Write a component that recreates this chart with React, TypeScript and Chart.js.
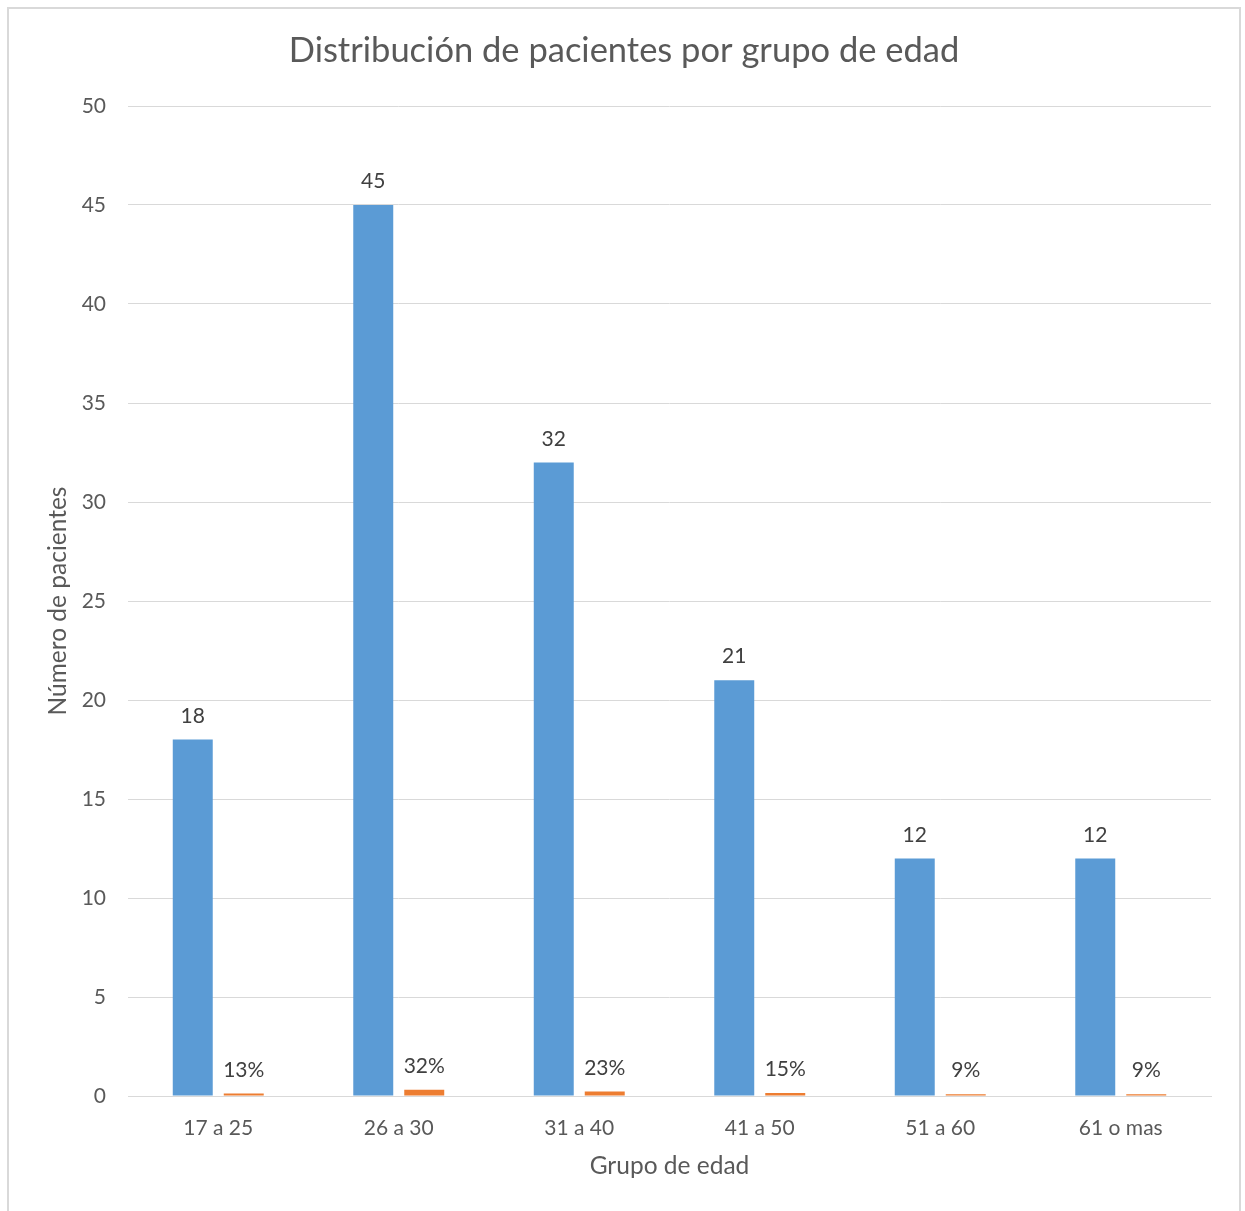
import React, { useEffect, useRef } from "react";
import { Chart, registerables } from "chart.js";

Chart.register(...registerables);

const categories = ["17 a 25", "26 a 30", "31 a 40", "41 a 50", "51 a 60", "61 o mas"];
const pacientes = [18, 45, 32, 21, 12, 12];
const porcentajes = [0.13, 0.32, 0.23, 0.15, 0.09, 0.09];
const yTicks = [0, 5, 10, 15, 20, 25, 30, 35, 40, 45, 50];

const FONT = "Lato, 'Open Sans', sans-serif";
const GRAY = "#595959";

const dataLabels = {
  id: "dataLabels",
  afterDatasetsDraw(chart: any) {
    const ctx = chart.ctx;
    ctx.save();
    ctx.font = `21px ${FONT}`;
    ctx.fillStyle = "#404040";
    ctx.textAlign = "center";
    ctx.textBaseline = "bottom";
    chart.data.datasets.forEach((ds: any, di: number) => {
      const meta = chart.getDatasetMeta(di);
      meta.data.forEach((el: any, i: number) => {
        const v = ds.data[i];
        const txt = di === 1 ? `${Math.round(v * 100)}%` : String(v);
        ctx.fillText(txt, el.x, el.y - 13);
      });
    });
    ctx.restore();
  },
};

export default function App() {
  const ref = useRef<HTMLCanvasElement | null>(null);
  useEffect(() => {
    if (!ref.current) return;
    const chart = new Chart(ref.current, {
      type: "bar",
      data: {
        labels: categories,
        datasets: [
          {
            label: "Pacientes",
            data: pacientes,
            backgroundColor: "#5B9BD5",
            categoryPercentage: 0.565,
            barPercentage: 0.784,
          },
          {
            label: "Porcentaje",
            data: porcentajes,
            backgroundColor: "#ED7D31",
            categoryPercentage: 0.565,
            barPercentage: 0.784,
          },
        ],
      },
      options: {
        responsive: false,
        animation: false,
        layout: { padding: { left: 28, right: 28, top: 0, bottom: 0 } },
        plugins: {
          legend: { display: false },
          tooltip: { enabled: false },
          title: {
            display: true,
            text: "Distribución de pacientes por grupo de edad",
            color: GRAY,
            font: { family: FONT, size: 34.5, weight: "normal", lineHeight: 1.2 },
            padding: { top: 21, bottom: 34.6 },
          },
        },
        scales: {
          x: {
            grid: { display: false, drawTicks: false },
            border: { display: true, color: "#d9d9d9", width: 1 },
            ticks: { color: GRAY, font: { family: FONT, size: 21 }, padding: 20 },
            title: {
              display: true,
              text: "Grupo de edad",
              color: GRAY,
              font: { family: FONT, size: 24.5 },
              padding: { top: 0, bottom: 30 },
            },
            afterFit: (scale: any) => {
              scale.height = 115;
            },
          },
          y: {
            min: 0,
            max: 50,
            afterBuildTicks: (scale: any) => {
              scale.ticks = yTicks.map((v) => ({ value: v }));
            },
            grid: { color: "#d9d9d9", lineWidth: 1, drawTicks: false },
            border: { display: false },
            ticks: { color: GRAY, font: { family: FONT, size: 21 }, padding: 22 },
            title: {
              display: true,
              text: "Número de pacientes",
              color: GRAY,
              font: { family: FONT, size: 24.5 },
              padding: { top: 6, bottom: 0 },
            },
            afterFit: (scale: any) => {
              scale.width = 91;
            },
          },
        },
      },
      plugins: [dataLabels],
    } as any);
    return () => chart.destroy();
  }, []);

  return (
    <div
      style={{
        position: "absolute",
        left: 7,
        top: 7,
        width: 1234,
        height: 1204,
        boxSizing: "border-box",
        borderTop: "2px solid #d9d9d9",
        borderLeft: "2px solid #d9d9d9",
        borderRight: "2px solid #d9d9d9",
        background: "#fff",
        overflow: "hidden",
      }}
    >
      <canvas ref={ref} width={1230} height={1202} style={{ display: "block" }} />
    </div>
  );
}
